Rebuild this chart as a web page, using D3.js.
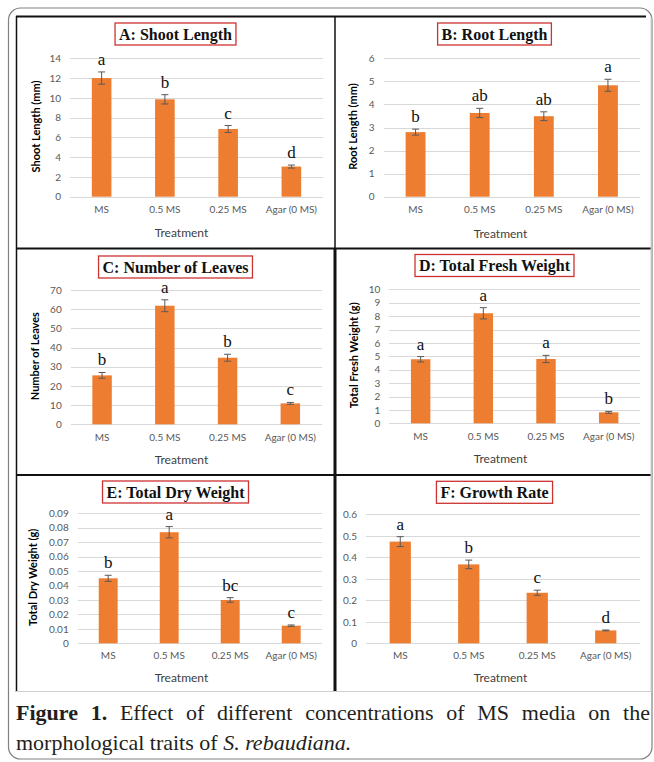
<!DOCTYPE html>
<html>
<head>
<meta charset="utf-8">
<script src="https://cdn.jsdelivr.net/npm/d3@7"></script>
<style>
  body { margin: 0; background: #fff; }
  svg { display: block; }
</style>
</head>
<body>
<div id="chart"></div>
<script>
// Tratamentos (eixo x comum)
const categories = ['MS', '0.5 MS', '0.25 MS', 'Agar (0 MS)'];

// A: Shoot Length
const shootLength = [12.0, 9.85, 6.85, 3.05];
const shootErr = [0.62, 0.47, 0.35, 0.15];
const shootLetters = ['a', 'b', 'c', 'd'];
const shootTicks = [0, 2, 4, 6, 8, 10, 12, 14];

// B: Root Length
const rootLength = [2.8, 3.63, 3.49, 4.83];
const rootErr = [0.13, 0.2, 0.19, 0.26];
const rootLetters = ['b', 'ab', 'ab', 'a'];
const rootTicks = [0, 1, 2, 3, 4, 5, 6];

// C: Number of Leaves
const leaves = [25.5, 61.8, 34.7, 10.9];
const leavesErr = [1.5, 3.1, 1.8, 0.5];
const leavesLetters = ['b', 'a', 'b', 'c'];
const leavesTicks = [0, 10, 20, 30, 40, 50, 60, 70];

// D: Total Fresh Weight
const freshWeight = [4.78, 8.21, 4.8, 0.82];
const freshErr = [0.2, 0.42, 0.27, 0.07];
const freshLetters = ['a', 'a', 'a', 'b'];
const freshTicks = [0, 1, 2, 3, 4, 5, 6, 7, 8, 9, 10];

// E: Total Dry Weight
const dryWeight = [0.045, 0.0769, 0.030, 0.0122];
const dryErr = [0.0021, 0.0039, 0.0016, 0.0005];
const dryLetters = ['b', 'a', 'bc', 'c'];
const dryTicks = [0, 0.01, 0.02, 0.03, 0.04, 0.05, 0.06, 0.07, 0.08, 0.09];

// F: Growth Rate
const growthRate = [0.473, 0.367, 0.235, 0.06];
const growthErr = [0.023, 0.02, 0.012, 0.002];
const growthLetters = ['a', 'b', 'c', 'd'];
const growthTicks = [0, 0.1, 0.2, 0.3, 0.4, 0.5, 0.6];

// Legenda da figura
const captionBold = 'Figure 1.';
const captionLine1 = 'Effect of different concentrations of MS media on the';
const captionLine2 = 'morphological traits of';
const captionItalic = 'S. rebaudiana.';

const xTitle = 'Treatment';

// Painéis (dados + layout)
const panels = [
  { title: 'A: Shoot Length', yTitle: 'Shoot Length (mm)', values: shootLength, err: shootErr, letters: shootLetters, ticks: shootTicks,
    ox: 16, oy: 16, x0: 54, x1: 307, y0: 180.7, yTop: 42.3, titleY: 18, labelY: 194, treatY: 217, yTitleX: 20 },
  { title: 'B: Root Length', yTitle: 'Root Length (mm)', values: rootLength, err: rootErr, letters: rootLetters, ticks: rootTicks,
    ox: 335, oy: 16, x0: 48.5, x1: 305, y0: 180.7, yTop: 42.3, titleY: 18, labelY: 194, treatY: 217.3, yTitleX: 18.3 },
  { title: 'C: Number of Leaves', yTitle: 'Number of Leaves', values: leaves, err: leavesErr, letters: leavesLetters, ticks: leavesTicks,
    ox: 16, oy: 248, x0: 54.7, x1: 305.7, y0: 176.3, yTop: 42, titleY: 19, labelY: 189.3, treatY: 212, yTitleX: 19 },
  { title: 'D: Total Fresh Weight', yTitle: 'Total Fresh Weight (g)', values: freshWeight, err: freshErr, letters: freshLetters, ticks: freshTicks,
    ox: 335, oy: 248, x0: 54.3, x1: 305, y0: 175.3, yTop: 41.3, titleY: 17.5, labelY: 188.7, treatY: 211, yTitleX: 19 },
  { title: 'E: Total Dry Weight', yTitle: 'Total Dry Weight (g)', values: dryWeight, err: dryErr, letters: dryLetters, ticks: dryTicks,
    ox: 16, oy: 475, x0: 61.7, x1: 305.7, y0: 168.3, yTop: 38.3, titleY: 17, labelY: 180.7, treatY: 202.3, yTitleX: 17.3 },
  { title: 'F: Growth Rate', yTitle: null, values: growthRate, err: growthErr, letters: growthLetters, ticks: growthTicks,
    ox: 335, oy: 475, x0: 31, x1: 305, y0: 168.3, yTop: 39.3, titleY: 17.3, labelY: 180.7, treatY: 202.3, yTitleX: 0 }
];

const sans = 'Lato, "Open Sans", sans-serif';
const serif = '"Liberation Serif", "Times New Roman", serif';

const svg = d3.select('#chart').append('svg')
  .attr('width', 654)
  .attr('height', 762);

svg.append('rect').attr('width', 654).attr('height', 762).attr('fill', '#fff');

// Moldura externa arredondada
svg.append('rect')
  .attr('x', 8.5).attr('y', 8)
  .attr('width', 643.5).attr('height', 751)
  .attr('rx', 12)
  .attr('fill', 'none')
  .attr('stroke', '#808080')
  .attr('stroke-width', 1.2);

// Grade dos painéis
const frame = svg.append('g');
function frameLine(x1, y1, x2, y2, color, w) {
  frame.append('line')
    .attr('x1', x1).attr('y1', y1).attr('x2', x2).attr('y2', y2)
    .attr('stroke', color).attr('stroke-width', w);
}

function drawPanel(p) {
  const g = svg.append('g').attr('transform', `translate(${p.ox},${p.oy})`);

  const x = d3.scaleBand().domain(categories).range([p.x0, p.x1]);
  const y = d3.scaleLinear().domain([0, d3.max(p.ticks)]).range([p.y0, p.yTop]);
  const fmt = d3.format('~g');

  // Linhas de grade + rótulos do eixo y
  g.append('g')
    .attr('transform', `translate(${p.x0},0)`)
    .call(d3.axisLeft(y).tickValues(p.ticks).tickSize(-(p.x1 - p.x0)).tickPadding(9).tickFormat(fmt))
    .call(a => a.select('.domain').remove())
    .call(a => a.selectAll('line').attr('stroke', '#d9d9d9').attr('shape-rendering', 'crispEdges'))
    .call(a => a.selectAll('text').attr('fill', '#595959').style('font', `10px ${sans}`));

  // Rótulos do eixo x
  g.append('g')
    .attr('transform', `translate(0,${p.y0})`)
    .call(d3.axisBottom(x).tickSize(0).tickPadding(p.labelY - p.y0 - 3.6))
    .call(a => a.select('.domain').remove())
    .call(a => a.selectAll('text').attr('fill', '#595959').style('font', `10px ${sans}`));

  const rows = categories.map((c, i) => ({ c, v: p.values[i], e: p.err[i], l: p.letters[i] }));
  const bw = x.bandwidth() * 0.31;
  const cx = d => x(d.c) + x.bandwidth() / 2;

  // Barras
  g.selectAll('.bar')
    .data(rows)
    .enter()
    .append('rect')
    .attr('class', 'bar')
    .attr('x', d => cx(d) - bw / 2)
    .attr('y', d => y(d.v))
    .attr('width', bw)
    .attr('height', d => y(0) - y(d.v))
    .attr('fill', '#ED7D31');

  // Barras de erro
  const eb = g.selectAll('.err')
    .data(rows)
    .enter()
    .append('g')
    .attr('class', 'err')
    .attr('stroke', '#595959')
    .attr('stroke-width', 1);
  eb.append('line')
    .attr('x1', cx).attr('x2', cx)
    .attr('y1', d => y(d.v - d.e)).attr('y2', d => y(d.v + d.e));
  eb.append('line')
    .attr('x1', d => cx(d) - 3.5).attr('x2', d => cx(d) + 3.5)
    .attr('y1', d => y(d.v + d.e)).attr('y2', d => y(d.v + d.e));
  eb.append('line')
    .attr('x1', d => cx(d) - 3.5).attr('x2', d => cx(d) + 3.5)
    .attr('y1', d => y(d.v - d.e)).attr('y2', d => y(d.v - d.e));

  // Letras de significância
  g.selectAll('.letter')
    .data(rows)
    .enter()
    .append('text')
    .attr('class', 'letter')
    .attr('x', cx)
    .attr('y', d => y(d.v + d.e) - 7)
    .attr('text-anchor', 'middle')
    .style('font', `17px ${serif}`)
    .attr('fill', '#111')
    .text(d => d.l);

  // Título do eixo x
  g.append('text')
    .attr('x', 165.5)
    .attr('y', p.treatY)
    .attr('dy', '0.35em')
    .attr('text-anchor', 'middle')
    .style('font', `12px ${sans}`)
    .attr('fill', '#404040')
    .text(xTitle);

  // Título do eixo y
  if (p.yTitle) {
    g.append('text')
      .attr('transform', `translate(${p.yTitleX},${(p.y0 + p.yTop) / 2 - 1}) rotate(-90)`)
      .attr('dy', '0.35em')
      .attr('text-anchor', 'middle')
      .style('font', `bold 11px ${sans}`)
      .attr('fill', '#000')
      .text(p.yTitle);
  }

  // Título do painel com caixa vermelha
  const tBox = g.append('rect');
  const t = g.append('text')
    .attr('x', 159.5)
    .attr('y', p.titleY + 5.5)
    .attr('text-anchor', 'middle')
    .style('font', `bold 16px ${serif}`)
    .attr('fill', '#111')
    .text(p.title);
  const tw = t.node().getComputedTextLength();
  tBox.attr('x', 159.5 - tw / 2 - 4)
    .attr('y', p.titleY - 11)
    .attr('width', tw + 8)
    .attr('height', 22)
    .attr('fill', '#fff')
    .attr('stroke', '#cc3333')
    .attr('stroke-width', 1.3);
}

panels.forEach(drawPanel);

// Linhas da grade (por cima)
frameLine(16, 16.5, 646, 16.5, '#111', 2);
frameLine(16.5, 16, 16.5, 692, '#111', 1.5);
frameLine(335, 16, 335, 248, '#111', 1.5);
frameLine(335, 248, 335, 692, '#111', 3);
frameLine(16, 248.5, 651, 248.5, '#111', 2);
frameLine(16, 475, 651, 475, '#111', 2);
frameLine(16, 691.5, 651, 691.5, '#cfcfcf', 1);
frameLine(651, 17, 651, 692, '#cfcfcf', 1);

// Legenda: linha 1 justificada
const cap = svg.append('g').attr('fill', '#231f20').style('font', `22px ${serif}`);
const words1 = captionBold.split(' ').map(w => ({ w, bold: true }))
  .concat(captionLine1.split(' ').map(w => ({ w, bold: false })));
const nodes = words1.map(d => cap.append('text')
  .attr('y', 720)
  .style('font-weight', d.bold ? 'bold' : 'normal')
  .text(d.w));
const widths = nodes.map(n => n.node().getComputedTextLength());
const gap = (650 - 16 - d3.sum(widths)) / (nodes.length - 1);
let cursor = 16;
nodes.forEach((n, i) => { n.attr('x', cursor); cursor += widths[i] + gap; });

// Linha 2
const line2 = cap.append('text').attr('x', 16).attr('y', 750);
line2.append('tspan').text(captionLine2 + ' ');
line2.append('tspan').style('font-style', 'italic').text(captionItalic);
</script>
</body>
</html>
